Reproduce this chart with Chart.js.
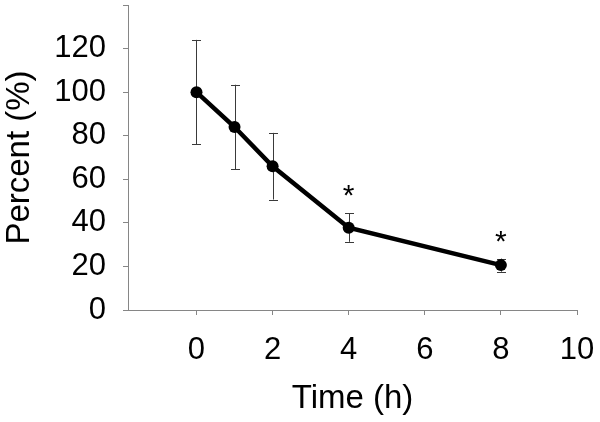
<!DOCTYPE html>
<html>
<head>
<meta charset="utf-8">
<script src="https://cdn.jsdelivr.net/npm/chart.js@4.4.1/dist/chart.umd.min.js"></script>
<style>
  html, body { margin: 0; padding: 0; background: #fff; }
  #wrap { width: 600px; height: 422px; position: relative; }
</style>
</head>
<body>
<div id="wrap"><canvas id="c"></canvas></div>
<script>
// values
const hours = [0, 1, 2, 4, 8];
const percent = [100, 84, 66, 37.8, 20.6];
const errors = [24, 19.4, 15.3, 6.5, 3];
const significant = [false, false, false, true, true];
const xTickValues = [0, 2, 4, 6, 8, 10];
const yTickValues = [0, 20, 40, 60, 80, 100, 120, 140];

const font = '"Liberation Sans", Arial, sans-serif';
const axisGray = '#868686';

// error bars under the line
const errorBars = {
  id: 'errorBars',
  beforeDatasetsDraw(chart) {
    const { ctx, scales: { x, y } } = chart;
    ctx.save();
    ctx.strokeStyle = '#3a3a3a';
    ctx.lineWidth = 1;
    hours.forEach((h, i) => {
      const px = Math.round(x.getPixelForValue(h)) + 0.5;
      const top = y.getPixelForValue(percent[i] + errors[i]);
      const bot = y.getPixelForValue(percent[i] - errors[i]);
      ctx.beginPath();
      ctx.moveTo(px, top); ctx.lineTo(px, bot);
      ctx.moveTo(px - 4.5, Math.round(top) + 0.5); ctx.lineTo(px + 4.5, Math.round(top) + 0.5);
      ctx.moveTo(px - 4.5, Math.round(bot) + 0.5); ctx.lineTo(px + 4.5, Math.round(bot) + 0.5);
      ctx.stroke();
    });
    ctx.restore();
  }
};

// significance stars above the error bars
const stars = {
  id: 'stars',
  afterDatasetsDraw(chart) {
    const { ctx, scales: { x, y } } = chart;
    ctx.save();
    ctx.fillStyle = '#000';
    ctx.font = '30px ' + font;
    ctx.textAlign = 'center';
    ctx.textBaseline = 'alphabetic';
    hours.forEach((h, i) => {
      if (!significant[i]) return;
      const top = y.getPixelForValue(percent[i] + errors[i]);
      ctx.fillText('*', x.getPixelForValue(h), top - 8);
    });
    ctx.restore();
  }
};

// drop the label padding chart.js adds so the plot box stays where the reference has it
function noPad(s) {
  s.paddingTop = 0;
  s.paddingBottom = 0;
  s.paddingLeft = 0;
  s.paddingRight = 0;
}

new Chart(document.getElementById('c'), {
  type: 'line',
  data: {
    datasets: [{
      data: hours.map((h, i) => ({ x: h, y: percent[i] })),
      borderColor: '#000',
      backgroundColor: '#000',
      borderWidth: 4.5,
      pointRadius: 6,
      pointBorderWidth: 0,
      pointBackgroundColor: '#000',
      tension: 0,
    }],
  },
  options: {
    responsive: true,
    maintainAspectRatio: false,
    animation: false,
    events: [],
    layout: {
      autoPadding: false,
      padding: { top: 5, right: 23, left: 0, bottom: 0 },
    },
    plugins: {
      legend: { display: false },
      tooltip: { enabled: false },
    },
    scales: {
      x: {
        type: 'linear',
        min: -1.8,
        max: 10,
        afterBuildTicks: s => { s.ticks = xTickValues.map(v => ({ value: v })); },
        afterFit: s => { s.height = 112; noPad(s); },
        grid: {
          drawOnChartArea: false,
          drawTicks: true,
          tickLength: 5,
          tickColor: axisGray,
        },
        border: { color: axisGray, width: 1 },
        ticks: {
          color: '#000',
          padding: 17,
          maxRotation: 0,
          autoSkip: false,
          font: { family: font, size: 31 },
        },
        title: {
          display: true,
          text: 'Time (h)',
          color: '#000',
          padding: { top: 0, bottom: 3.5 },
          font: { family: font, size: 33 },
        },
      },
      y: {
        min: 0,
        max: 140,
        afterBuildTicks: s => { s.ticks = yTickValues.map(v => ({ value: v })); },
        afterFit: s => { s.width = 128; noPad(s); },
        grid: {
          drawOnChartArea: false,
          drawTicks: true,
          tickLength: 5,
          tickColor: axisGray,
        },
        border: { color: axisGray, width: 1 },
        ticks: {
          color: '#000',
          padding: 17,
          autoSkip: false,
          font: { family: font, size: 31 },
          callback: v => (v === 140 ? '' : v),
        },
        title: {
          display: true,
          text: 'Percent (%)',
          color: '#000',
          padding: { top: 0.5, bottom: 0 },
          font: { family: font, size: 33 },
        },
      },
    },
  },
  plugins: [errorBars, stars],
});
</script>
</body>
</html>
